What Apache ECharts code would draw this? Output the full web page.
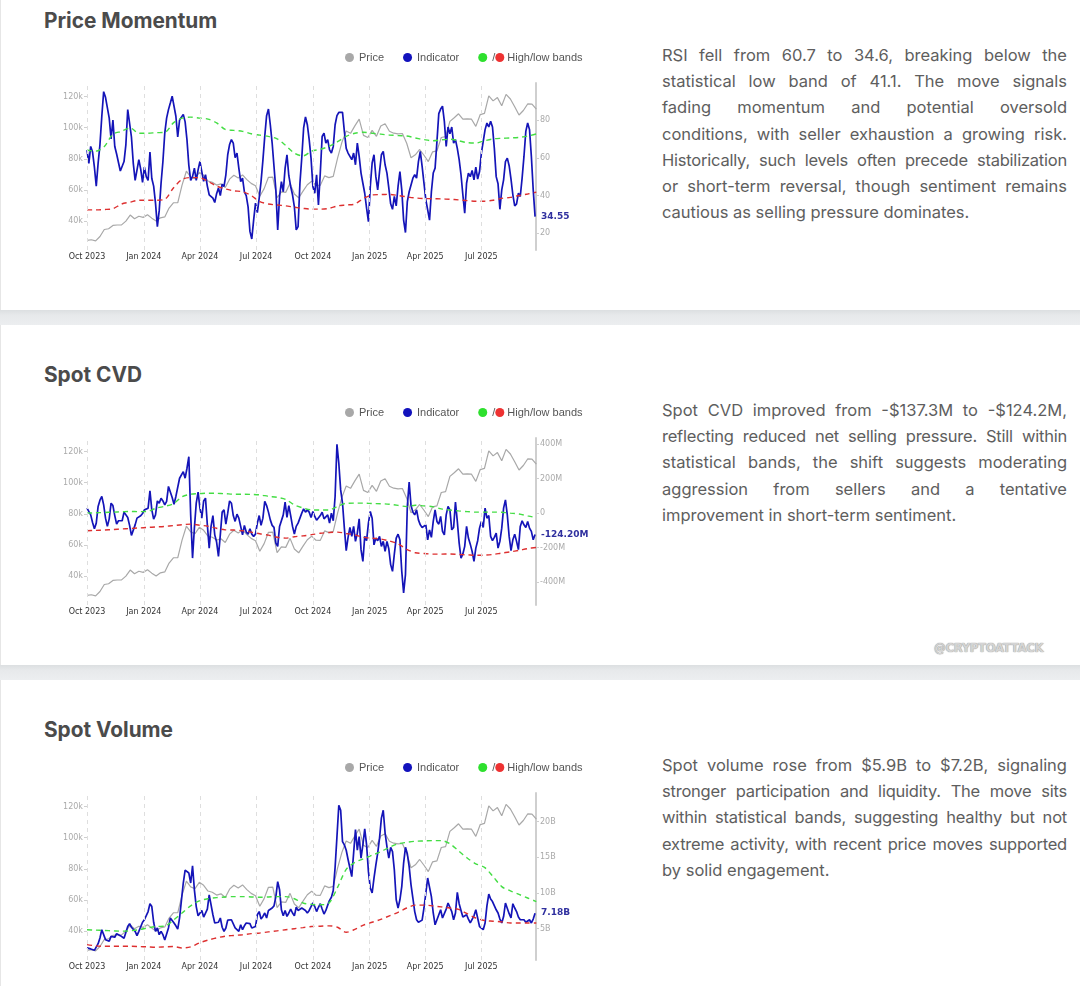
<!DOCTYPE html>
<html><head><meta charset="utf-8">
<script src="https://cdn.jsdelivr.net/npm/echarts@6.0.0/dist/echarts.min.js"></script>
<style>
html,body{margin:0;padding:0;background:#fff;}
body{width:1080px;height:986px;position:relative;overflow:hidden;font-family:Inter,sans-serif;}
.band{position:absolute;left:0;width:1080px;background:linear-gradient(to bottom,#dcdfe1 0%,#e7e9eb 35%,#eceef0 100%);}
.edge{position:absolute;left:0;width:1px;background:#e6e6e6;}
h2{position:absolute;left:44px;margin:0;font-family:Inter,sans-serif;font-weight:700;font-size:20.8px;line-height:20px;color:#4b4b4b;}
.chart{position:absolute;left:0;width:640px;height:300px;}
.para{position:absolute;left:662px;width:405px;font-family:Inter,sans-serif;font-size:16.5px;line-height:26.2px;color:#5e5e5e;}
.para .j{text-align:justify;text-align-last:justify;}
.para .l{text-align:left;}
.para .t{letter-spacing:-0.22px;}
.wm{position:absolute;left:934px;top:640px;font-family:'DejaVu Sans Condensed','DejaVu Sans',sans-serif;font-weight:bold;font-size:13px;color:#d4d4d4;letter-spacing:-0.3px;text-shadow:0 0 1px #999,0 0 1px #aaa;}
</style>
</head><body>
<div class="edge" style="top:0;height:310px"></div>
<div class="edge" style="top:325px;height:340px"></div>
<div class="edge" style="top:680px;height:306px"></div>
<div class="band" style="top:310px;height:15px"></div>
<div class="band" style="top:665px;height:15px"></div>

<h2 style="top:11px">Price Momentum</h2>
<h2 style="top:365px">Spot CVD</h2>
<h2 style="top:720px">Spot Volume</h2>

<div id="c1" class="chart" style="top:0px"></div>
<div id="c2" class="chart" style="top:355px"></div>
<div id="c3" class="chart" style="top:710px"></div>

<div class="para" style="top:42px">
<div class="j">RSI fell from 60.7 to 34.6, breaking below the</div>
<div class="j">statistical low band of 41.1. The move signals</div>
<div class="j">fading momentum and potential oversold</div>
<div class="j">conditions, with seller exhaustion a growing risk.</div>
<div class="j t">Historically, such levels often precede stabilization</div>
<div class="j">or short-term reversal, though sentiment remains</div>
<div class="l">cautious as selling pressure dominates.</div>
</div>
<div class="para" style="top:397px">
<div class="j">Spot CVD improved from -$137.3M to -$124.2M,</div>
<div class="j t">reflecting reduced net selling pressure. Still within</div>
<div class="j">statistical bands, the shift suggests moderating</div>
<div class="j">aggression from sellers and a tentative</div>
<div class="l">improvement in short-term sentiment.</div>
</div>
<div class="para" style="top:752px">
<div class="j">Spot volume rose from $5.9B to $7.2B, signaling</div>
<div class="j t">stronger participation and liquidity. The move sits</div>
<div class="j t">within statistical bands, suggesting healthy but not</div>
<div class="j t">extreme activity, with recent price moves supported</div>
<div class="l">by solid engagement.</div>
</div>
<div class="wm">@CRYPTOATTACK</div>

<script>
// ---------- data ----------
const DAY = 86400000;
const START = Date.UTC(2023, 9, 1);
const X_MAX = Date.UTC(2025, 8, 27, 12);
const INDICATOR_STEP_DAYS = 3;
const BAND_STEP_DAYS = 14;
const PRICE_STEP_DAYS = 7;

const quarterTicks = ['2023-10-01','2024-01-01','2024-04-01','2024-07-01','2024-10-01','2025-01-01','2025-04-01','2025-07-01'];
const quarterLabels = ['Oct 2023','Jan 2024','Apr 2024','Jul 2024','Oct 2024','Jan 2025','Apr 2025','Jul 2025'];

// BTC price, thousands USD, weekly
const priceK = [27.5,27.9,27.2,30.0,34.5,35.0,37.1,37.4,37.5,39.9,
 43.8,41.4,43.0,42.3,44.0,41.8,40.0,42.0,42.6,48.3,
 51.7,51.7,63.1,72.0,68.4,67.2,71.3,69.4,65.7,64.9,
 63.1,63.9,61.5,66.9,69.4,67.7,69.6,66.6,64.2,62.7,
 55.9,60.8,68.1,68.2,55.0,58.7,58.4,64.2,57.3,54.9,
 59.2,63.3,65.6,63.0,62.9,69.0,67.9,68.7,80.4,90.6,
 97.9,96.4,101.2,105.5,95.1,93.7,98.3,94.5,101.1,102.6,
 97.7,96.5,96.1,96.3,90.0,80.7,82.6,86.0,82.3,78.2,
 84.5,85.1,93.7,94.3,104.1,106.4,109.0,105.6,105.7,105.5,
 100.9,108.4,109.2,120.5,117.3,119.4,114.2,121.5,118.5,113.5,
 108.2,111.1,115.3,115.2,112.0];
const priceTicksK = [40,60,80,100,120];

// Price Momentum (RSI)
const rsiValues = [64,57,66,63,55,45,57,67,82,95,
 92,91,81,70,80,66,62,57.5,53,53,
 58,67,85.5,86,71,57,48,47.5,59,54,
 47,55,50,48,63,49,45,36,23.5,32,
 46.5,58,73,81,85.5,89,92.6,91.7,82,71,
 80,79,83,79,69.5,56,48,50,54.5,48,
 53.6,58,52.7,47.5,51,45,40.4,41,38.6,36.3,
 41,44,40,46,44.8,51,61.6,67,69.6,67.8,
 60,62.5,54.5,47.4,49.2,42,40,34,21,17,
 27,36,31,38.6,47.4,58.6,71.3,82.3,85.8,77.5,
 67.8,55.4,43,21.8,39.5,47.4,42,54.5,61.6,50.5,
 44.8,40.4,34,21.8,23.5,46.5,60,75.8,81.6,77.5,
 69.6,59.8,44.8,41.2,51,35,51.9,71.3,73,67.8,
 69.6,64.2,62.5,66,77.5,82.3,84,85,84,74,
 65,62.5,63.4,59,62.5,56.3,67.8,60.7,51.9,46.5,
 41.2,33.3,26.2,44.8,57.2,61.6,50,43,52.7,61.6,
 63.4,56.3,51.9,44,35.6,32.7,39.5,34.5,44.8,52.7,
 43,27,20.4,36.8,42,41,49.2,51,49.2,58,
 63.4,55.4,46.5,37.7,32.4,27,42,51.9,54.5,68.7,
 83.4,85.8,87.3,79.3,66,76.3,72.7,76.3,67.8,69.6,
 65,59,51,40.4,30.6,46.5,51.9,50,53.3,48.3,
 55,48.7,52.7,62.5,68.7,74.9,78.4,76.3,79.3,76.3,
 65,50,46.2,32.7,43,48.3,58,59.8,55.8,48.7,
 40.4,34.5,35.6,41.2,39.5,49.2,60.7,74,78.4,74.9,
 60.7,43,28.8];
const rsiHigh = [64,63.5,66,72.5,74,75.8,73,73,73.3,73.5,
 78.5,81,81.5,81,80.5,78.5,75,74.5,74,72.7,
 72,71.3,70,66.5,62.5,61,63.5,64.5,66,68.5,
 71.3,73,73.5,73,72.5,72,71.8,71.5,70.5,69.6,
 69,69.5,69.8,69,68,67.8,69,70,70.3,70.5,
 70.8,71.5,72.6];
const rsiLow = [32.4,32.4,32.6,33,35.5,36.5,37.5,37.5,37.5,38,
 44,48.5,49.5,49.5,47.5,45,43.5,42.5,42,40,
 36.8,35.5,35,34.5,33.8,33.2,32.8,32.8,33.2,34.5,
 35,35.5,38.5,40.3,40.5,40.6,40,39.3,38.7,38.4,
 38.3,38.2,38,37.7,37.3,37,37,37.5,38.5,39,
 40,40.8,41.8];
const rsiTicks = [20,40,60,80];
const rsiEndLabel = '34.55';

// Spot CVD, millions USD
const cvdValues = [29,19,-10,-54,-91,-58,39,75,97,48,
 -29,-77,-33,58,44,-14,-64,-44,-33,-44,
 6,14,-25,-71,-129,-126,-68,-29,-19,-15,
 -2,19,29,29,129,19,-35,-10,71,58,
 87,71,48,68,155,149,91,52,97,106,
 203,203,241,203,261,328,-10,-261,-87,58,
 122,29,-29,71,87,-68,-203,-77,-14,-126,
 -168,-251,-126,6,19,-64,0,71,58,-14,
 -48,-6,-29,-77,-126,-71,-110,-122,-91,-122,
 -135,-122,-58,-14,-71,-29,68,44,6,-39,
 -71,-83,-174,-193,-77,-77,-10,64,-25,44,
 -14,-77,-122,-77,-58,-68,0,25,6,19,
 6,-25,10,-19,-41,-44,-14,6,-33,-39,
 -10,-58,0,-44,97,400,290,135,58,-87,
 -218,-141,-83,-135,-77,-164,-116,-33,-212,-280,
 -135,-160,-58,10,-29,-184,-145,-160,-135,-193,
 -164,-222,-164,-207,-299,-338,-237,-145,-122,-155,
 -338,-463,-357,39,180,44,6,-10,19,-39,
 -68,-83,-83,-68,-155,-97,-141,-48,19,-48,
 -64,-19,-106,-126,-10,39,19,-97,-83,64,
 -48,-174,-261,-237,-193,-77,-145,-180,-222,-280,
 -203,-160,-87,-48,-83,29,-29,-14,-135,-160,
 -141,-116,-203,-164,-87,29,77,-10,-135,-218,
 -155,-122,-164,-212,-77,-44,-68,-83,-48,-87,
 -106,-155,-124.2];
const cvdHigh = [0,2,4,6,8,10,9,10,29,40,
 55,95,110,113,116,115,113,110,110,109,
 106,98,92,80,48,30,19,18,18,40,
 57,58,58,56,55,52,45,38,46,42,
 38,25,18,13,9,6,6,6,5,0,
 -5,-16,-26];
const cvdLow = [-102,-100,-98,-95,-92,-89,-86,-83,-80,-77,
 -72,-67,-64,-70,-76,-88,-97,-98,-102,-110,
 -120,-128,-140,-145,-137,-132,-125,-117,-112,-110,
 -118,-126,-141,-146,-150,-162,-178,-210,-230,-234,
 -238,-238,-237,-240,-242,-245,-244,-240,-232,-225,
 -216,-206,-199];
const cvdTicks = [-400,-200,0,200,400];

// Spot Volume, billions USD
const volValues = [2.3,2.53,2.16,2.35,1.97,2.07,2.9,3.7,4.86,4.86,
 3.46,3.56,3.23,3.93,4.16,3.8,4.3,4.02,4.02,3.84,
 3.65,3.8,5.3,5.7,5.2,5.3,4.63,4.02,4.63,4.86,
 5.9,6.25,6.35,7.4,8.5,8.1,5.9,4.63,5.1,4.16,
 4.63,4.16,3.42,3.46,5.1,6.5,6.72,5.8,5.4,4.95,
 6.5,8.96,11.4,13.2,13.0,12.8,11.4,13.8,10.45,8.1,
 6.8,6.85,7.56,6.63,6.8,7.75,9.75,9.5,6.95,5.8,
 6.0,5.9,6.5,5.2,4.63,5.1,6.2,6.0,6.25,6.2,
 5.1,5.3,4.63,5.55,4.86,5.4,5.8,5.6,5.7,5.1,
 4.95,5.3,6.95,7.4,6.35,6.72,7.2,6.5,7.56,7.3,
 7.9,8.2,9.5,11.6,10.45,7.65,6.8,7.56,6.72,7.2,
 7.75,7.2,6.8,8.0,7.56,7.4,7.9,8.0,7.56,7.2,
 7.56,8.1,8.6,8.1,7.4,8.0,8.5,7.75,7.05,7.56,
 8.3,8.96,9.4,10.35,13.6,17.9,22.3,21.6,17.2,16.75,
 16.0,14.7,13.5,12.3,15.6,18.9,16.0,17.9,14.9,16.75,
 19.0,16.75,13.0,10.7,10.0,12.1,13.9,15.6,17.7,20.5,
 21.6,18.4,16.5,14.9,16.4,15.8,13.2,9.05,7.9,9.05,
 10.9,14.2,16.4,15.5,13.7,11.15,9.3,7.4,6.25,5.9,
 6.0,6.2,7.9,10.0,12.1,12.2,9.5,7.2,5.55,5.3,
 6.95,7.65,6.5,6.5,7.75,8.6,8.6,7.4,6.25,7.2,
 10.1,8.5,7.56,6.63,6.63,6.95,6.35,5.8,5.9,6.8,
 7.65,7.75,5.3,5.1,4.86,5.8,8.2,9.85,9.15,8.8,
 8.7,7.65,7.2,6.35,5.8,6.7,8.6,8.7,7.1,6.5,
 8.5,7.9,7.4,6.63,6.25,6.0,6.25,5.9,6.0,6.25,
 5.8,6.35,7.18];
const volHigh = [4.86,4.8,4.75,4.7,4.65,4.7,4.85,5.1,5.3,5.35,
 6.2,7.2,8.2,8.9,9.2,9.35,9.45,9.5,9.5,9.45,
 9.4,9.45,9.5,9.5,9.2,8.6,8.4,8.35,8.6,10.8,
 13.3,14.3,14.8,15.3,15.8,16.4,16.9,17.1,17.25,17.3,
 17.35,17.35,16.9,15.9,14.9,14.1,13.6,12.3,10.9,10.3,
 9.8,9.3,8.8];
const volLow = [2.77,2.6,2.53,2.53,2.53,2.53,2.5,2.45,2.4,2.45,
 2.5,2.3,2.45,3.0,3.4,3.7,3.95,4.05,4.15,4.3,
 4.4,4.55,4.7,4.85,5.0,5.15,5.3,5.35,5.4,5.2,
 4.5,4.9,5.5,5.9,6.3,6.8,7.3,7.9,8.3,8.3,
 8.2,8.05,7.9,7.7,7.1,6.5,6.15,6.05,5.95,5.8,
 5.8,5.8,5.8];
const volTicks = [5,10,15,20];

// ---------- chart builder ----------
const quarterTs = quarterTicks.map(s => Date.parse(s + 'T00:00:00Z'));
const toSeries = (vals, stepDays) => vals.map((v, i) => [START + i * stepDays * DAY, v]);
const AX_FONT = 'DejaVu Sans';
const AX_SIZE = 8;

function build(id, cfg) {
  const chart = echarts.init(document.getElementById(id), null, {renderer: 'canvas'});
  const option = {
    animation: false,
    legend: {
      top: 47, left: 340, itemWidth: 9, itemHeight: 9, itemGap: 19,
      icon: 'circle',
      selectedMode: false,
      data: ['Price', 'Indicator', 'High/low bands'],
      textStyle: {
        fontFamily: 'Liberation Sans', fontSize: 11, color: '#555',
        rich: {
          sep: {fontFamily: 'Liberation Sans', fontSize: 11, color: '#555'},
          dot: {width: 9, height: 9, borderRadius: 4.5, backgroundColor: '#ee3232'},
          txt: {fontFamily: 'Liberation Sans', fontSize: 11, color: '#555', padding: [0, 0, 0, 3]}
        }
      },
      formatter: n => n === 'High/low bands' ? '{sep|/}{dot|}{txt|High/low bands}' : n
    },
    grid: {left: 87, top: 83, width: 449, height: 167},
    xAxis: {
      type: 'value', min: START, max: X_MAX,
      axisLine: {show: false}, axisTick: {show: false}, splitLine: {show: false},
      axisLabel: {
        customValues: quarterTs,
        formatter: v => quarterLabels[quarterTs.indexOf(v)] || '',
        color: '#333', fontSize: AX_SIZE, fontFamily: AX_FONT, margin: 3,
        hideOverlap: false
      }
    },
    yAxis: [
      {
        type: 'value', position: 'left', min: 21.3, max: 128.8,
        axisLine: {show: false},
        axisTick: {show: true, customValues: priceTicksK, length: 3, lineStyle: {color: '#cfcfcf'}},
        axisLabel: {customValues: priceTicksK, formatter: v => v + 'k', color: '#aaa', fontSize: AX_SIZE, fontFamily: AX_FONT, margin: 4},
        splitLine: {show: false}
      },
      {
        type: 'value', position: 'right', min: cfg.min, max: cfg.max,
        axisLine: {show: true, lineStyle: {color: '#cfcfcf', width: 2}},
        axisTick: {show: true, customValues: cfg.ticks, length: 3, lineStyle: {color: '#cfcfcf'}},
        axisLabel: {customValues: cfg.ticks, formatter: cfg.tickFmt, color: '#aaa', fontSize: AX_SIZE, fontFamily: AX_FONT, margin: 4},
        splitLine: {show: false}
      }
    ],
    series: [
      {
        name: 'Price', type: 'line', yAxisIndex: 0, z: 1,
        data: toSeries(priceK, PRICE_STEP_DAYS), showSymbol: false, symbol: 'none',
        itemStyle: {color: '#a8a8a8'}, lineStyle: {color: '#a8a8a8', width: 1.2},
        markLine: {
          silent: true, symbol: ['none', 'none'], label: {show: false}, animation: false,
          lineStyle: {color: '#dedede', type: [4, 4], width: 1},
          data: quarterTs.map(t => ({xAxis: t}))
        }
      },
      {
        name: 'Indicator', type: 'line', yAxisIndex: 1, z: 3,
        data: toSeries(cfg.ind, INDICATOR_STEP_DAYS), showSymbol: false, symbol: 'none',
        itemStyle: {color: '#1212bd'}, lineStyle: {color: '#1414b8', width: 1.7},
        endLabel: {show: true, formatter: cfg.endFmt, color: '#30309f', fontFamily: AX_FONT, fontWeight: 'bold', fontSize: 9, distance: 6}
      },
      {
        name: 'High/low bands', type: 'line', yAxisIndex: 1, z: 4,
        data: toSeries(cfg.high, BAND_STEP_DAYS), showSymbol: false, symbol: 'none', smooth: 0.3,
        itemStyle: {color: '#2ee02e'}, lineStyle: {color: '#44dd44', width: 1.4, type: [5, 4]}
      },
      {
        name: 'High/low bands', type: 'line', yAxisIndex: 1, z: 4,
        data: toSeries(cfg.low, BAND_STEP_DAYS), showSymbol: false, symbol: 'none', smooth: 0.3,
        itemStyle: {color: '#ee3232'}, lineStyle: {color: '#dd3030', width: 1.4, type: [5, 4]}
      }
    ]
  };
  chart.setOption(option);
}

build('c1', {ind: rsiValues, high: rsiHigh, low: rsiLow, min: 11.15, max: 99.6, ticks: rsiTicks,
  tickFmt: v => String(v), endFmt: () => rsiEndLabel});
build('c2', {ind: cvdValues, high: cvdHigh, low: cvdLow, min: -533.6, max: 436.6, ticks: cvdTicks,
  tickFmt: v => v === 0 ? '0' : v + 'M', endFmt: p => p.value[1].toFixed(2) + 'M'});
build('c3', {ind: volValues, high: volHigh, low: volLow, min: 0.61, max: 24.02, ticks: volTicks,
  tickFmt: v => v + 'B', endFmt: p => p.value[1].toFixed(2) + 'B'});
</script>
</body></html>
